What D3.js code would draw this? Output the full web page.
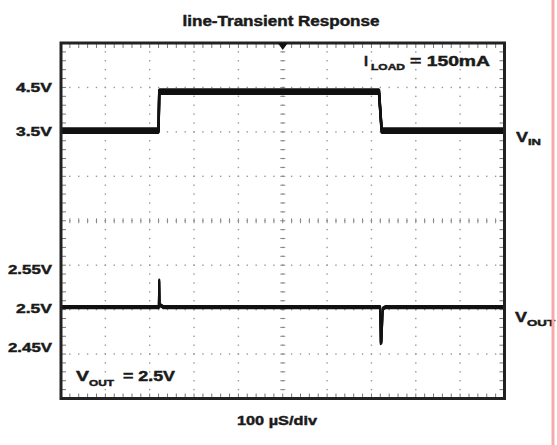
<!DOCTYPE html>
<html><head><meta charset="utf-8">
<script src="https://cdn.jsdelivr.net/npm/d3@7/dist/d3.min.js"></script>
<style>
html,body{margin:0;padding:0;background:#fff;}
svg{display:block;}
text{font-family:"Liberation Sans",Arial,sans-serif;font-weight:bold;fill:#1a1a1a;stroke:#1a1a1a;stroke-width:0.45px;}
</style>
</head><body>
<svg id="c" width="557" height="445"></svg>
<script>
// ---- data ----
const title = "line-Transient Response";
const xLabel = "100 µS/div";
const timePerDiv = 100;            // µs per division
const timeDomain = [0, 1000];      // µs
const vinTicks = [3.5, 4.5];
const vinTickLabels = ["3.5V", "4.5V"];
const voutTicks = [2.45, 2.5, 2.55];
const voutTickLabels = ["2.45V", "2.5V", "2.55V"];
const vinTime  = [0,    220,  221.5, 717,  723,  1000];
const vinValue = [3.52, 3.52, 4.40,  4.40, 3.52, 3.52];
const voutTime  = [0,     220.5, 221.5, 222.5, 226,   231,   719.5, 721,   722.5, 725.5, 731,   1000];
const voutValue = [2.501, 2.501, 2.535, 2.503, 2.503, 2.501, 2.501, 2.455, 2.456, 2.499, 2.501, 2.501];

// ---- layout ----
const svg = d3.select("#c");
const L = 61, R = 504.5, T = 43, B = 398.5;
const x = d3.scaleLinear(timeDomain, [L, R]);
const yDiv = d3.scaleLinear([0, 8], [T, B]);
const yVin = d3.scaleLinear([3.5, 4.5], [131.5, 87.2]);
const yVout = d3.scaleLinear([2.45, 2.55], [347, 269]);

const nX = (timeDomain[1] - timeDomain[0]) / timePerDiv;
const g = svg.append("g");

// dotted grid
const dots = [];
for (let i = 1; i < nX; i++) {
  for (let k = 1; k < 40; k++) dots.push([x(i * timePerDiv), yDiv(k / 5)]);
}
for (let j = 1; j < 8; j++) {
  for (let k = 1; k < nX * 5; k++) dots.push([x(k * timePerDiv / 5), yDiv(j)]);
}
g.selectAll("rect.dot").data(dots).join("rect").attr("class", "dot")
  .attr("x", d => d[0] - 0.7).attr("y", d => d[1] - 0.7)
  .attr("width", 1.4).attr("height", 1.4).attr("fill", "#999");

// center crosshair ticks
const cx = x(timeDomain[1] / 2), cy = yDiv(4);
const ct = g.append("g").attr("stroke", "#888").attr("stroke-width", 1);
for (let k = 1; k < 40; k++) {
  ct.append("line").attr("x1", cx - 2.5).attr("x2", cx + 2.5).attr("y1", yDiv(k / 5)).attr("y2", yDiv(k / 5));
}
for (let k = 1; k < nX * 5; k++) {
  const xx = x(k * timePerDiv / 5);
  ct.append("line").attr("x1", xx).attr("x2", xx).attr("y1", cy - 2.5).attr("y2", cy + 2.5);
}

// border minor ticks
const bt = g.append("g").attr("stroke", "#777").attr("stroke-width", 1);
for (let k = 1; k < nX * 5; k++) {
  const xx = x(k * timePerDiv / 5);
  bt.append("line").attr("x1", xx).attr("x2", xx).attr("y1", T).attr("y2", T + 5);
  bt.append("line").attr("x1", xx).attr("x2", xx).attr("y1", B - 5).attr("y2", B);
}
for (let k = 1; k < 40; k++) {
  const yy = yDiv(k / 5);
  bt.append("line").attr("x1", L).attr("x2", L + 5).attr("y1", yy).attr("y2", yy);
  bt.append("line").attr("x1", R - 5).attr("x2", R).attr("y1", yy).attr("y2", yy);
}

// traces (noisy band drawn as stacked thin strokes so edges stay thin)
const vinLine = d3.line().x(d => x(d[0])).y(d => yVin(d[1]));
[-2.2, -1, 0, 1, 2.2].forEach(dy => {
  svg.append("path").datum(d3.zip(vinTime, vinValue))
    .attr("transform", `translate(0,${dy})`)
    .attr("d", vinLine).attr("fill", "none").attr("stroke", "#111")
    .attr("stroke-width", 2.4).attr("stroke-linejoin", "bevel");
});
const voutLine = d3.line().x(d => x(d[0])).y(d => yVout(d[1]));
[-1.1, 0, 1.1].forEach(dy => {
  svg.append("path").datum(d3.zip(voutTime, voutValue))
    .attr("transform", `translate(0,${dy})`)
    .attr("d", voutLine).attr("fill", "none").attr("stroke", "#111")
    .attr("stroke-width", 2).attr("stroke-linejoin", "round");
});

// border
svg.append("rect").attr("x", L).attr("y", T).attr("width", R - L).attr("height", B - T)
  .attr("fill", "none").attr("stroke", "#222").attr("stroke-width", 3);

// trigger marker
svg.append("path")
  .attr("d", `M${cx - 5},${T} L${cx + 5},${T} L${cx},${T + 7} Z`)
  .attr("fill", "#111");

// axes (labels only)
function labelAxis(scale, vals, labels) {
  const a = svg.append("g").attr("transform", `translate(${L},0)`)
    .call(d3.axisLeft(scale).tickValues(vals).tickFormat((d, i) => labels[i]).tickSize(0).tickPadding(9));
  a.select(".domain").remove();
  a.selectAll("text").attr("font-size", 13).attr("fill", "#1a1a1a")
    .style("font-family", '"Liberation Sans",Arial,sans-serif').style("font-weight", "bold")
    .attr("textLength", d => String(labels[vals.indexOf(d)]).length > 4 ? 44 : 36)
    .attr("lengthAdjust", "spacingAndGlyphs");
}
labelAxis(yVin, vinTicks, vinTickLabels);
labelAxis(yVout, voutTicks, voutTickLabels);

// texts
function txt(s, xx, yy, size, len, anchor) {
  const t = svg.append("text").attr("x", xx).attr("y", yy).attr("font-size", size).text(s);
  if (len) t.attr("textLength", len).attr("lengthAdjust", "spacingAndGlyphs");
  if (anchor) t.attr("text-anchor", anchor);
  return t;
}
txt(title, 281, 26, 14, 197, "middle");
txt(xLabel, 237, 425, 13, 80);
// I_LOAD = 150mA
txt("I", 364, 66, 14, 4);
txt("LOAD", 371, 70, 9, 34);
txt("= 150mA", 410, 66, 14, 80);
// V_IN
txt("V", 516, 142, 15, 12);
txt("IN", 528, 145, 9, 13);
// V_OUT right
txt("V", 515, 322, 15, 12);
txt("OUT", 527, 326, 9, 28);
// V_OUT = 2.5V
txt("V", 76, 381, 15, 13);
txt("OUT", 89, 386, 9, 25);
txt("= 2.5V", 123, 381, 14, 52);

// pink edge line
svg.append("line").attr("x1", 553).attr("x2", 553).attr("y1", 0).attr("y2", 445)
  .attr("stroke", "#f7a9a9").attr("stroke-width", 3);
</script>
</body></html>
